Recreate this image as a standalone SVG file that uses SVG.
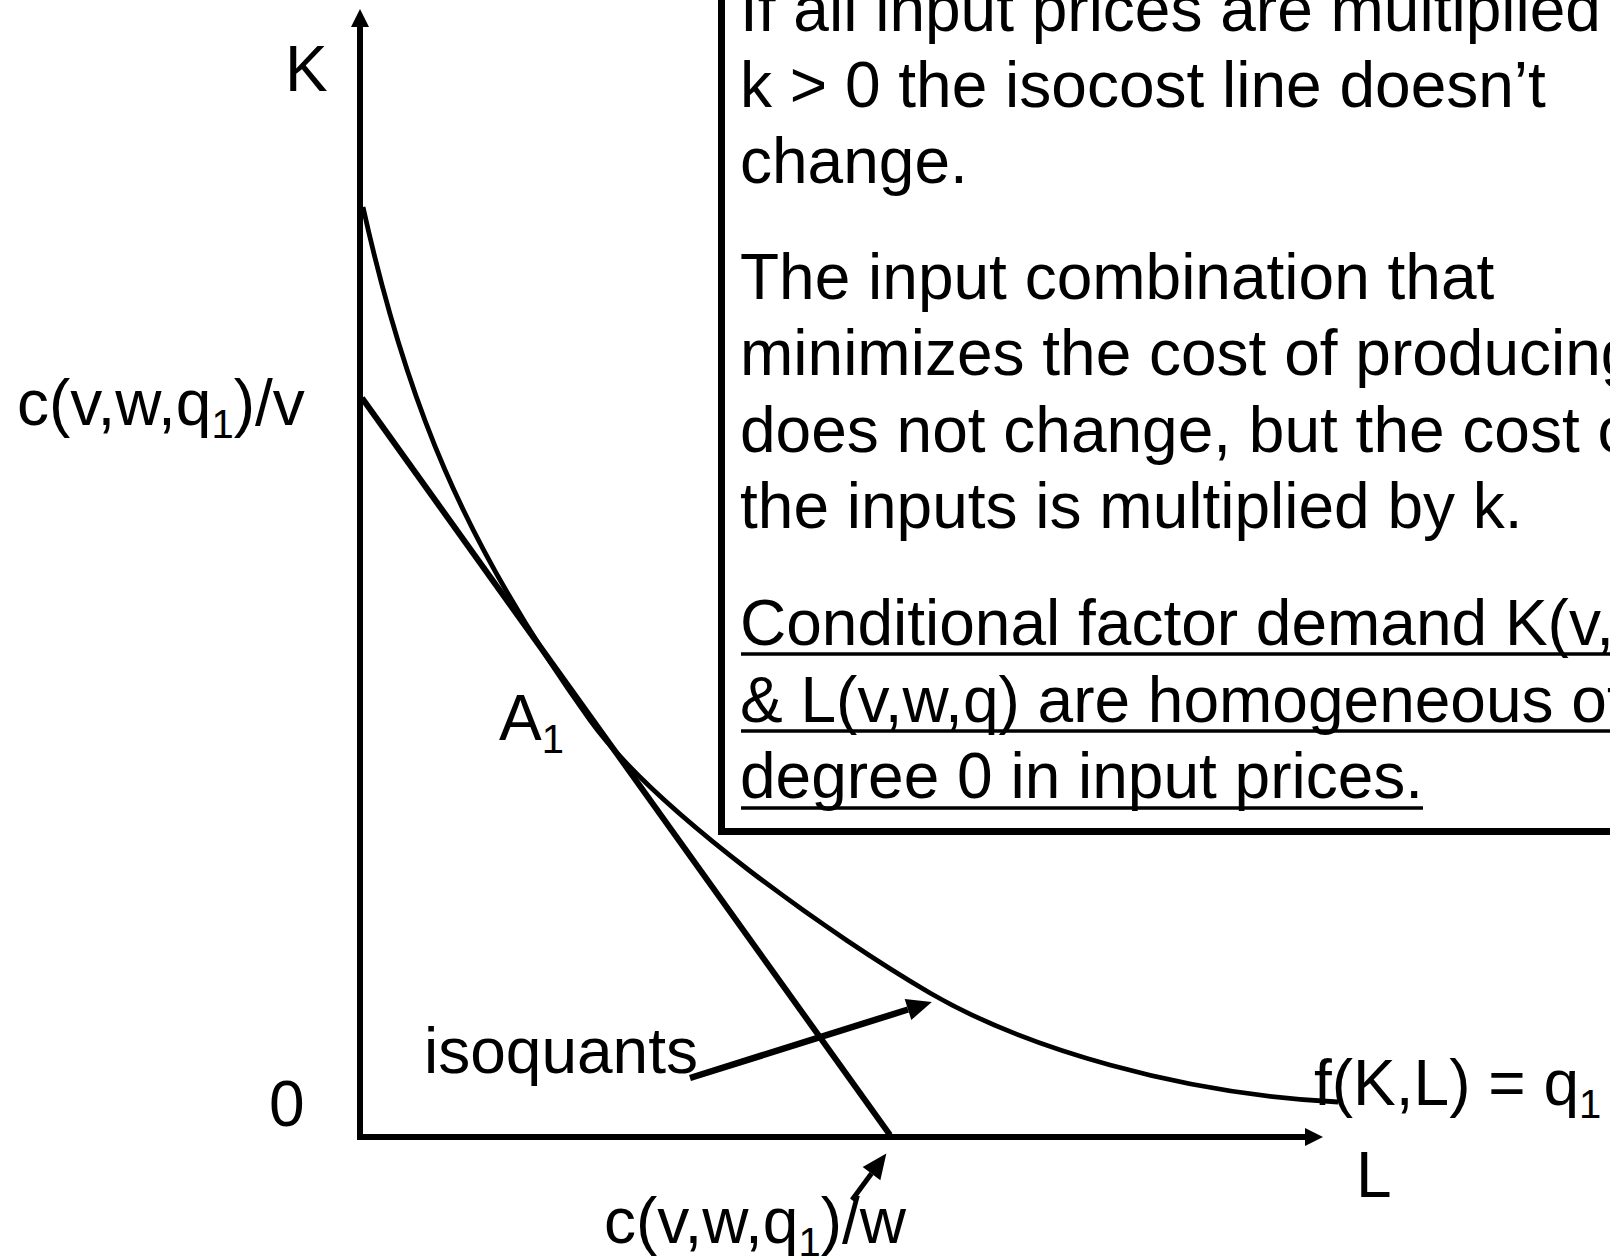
<svg xmlns="http://www.w3.org/2000/svg" width="1610" height="1259" viewBox="0 0 1610 1259">
  <style>
    .t { font-family: "Liberation Sans", Arial, sans-serif; font-size: 64px; fill: #000; }
    .sub { font-size: 40px; }
    .ln { stroke: #000; fill: none; stroke-linecap: butt; }
  </style>
  <defs>
    <marker id="axisHead" markerUnits="userSpaceOnUse" markerWidth="18" markerHeight="18" refX="0" refY="9" orient="auto" overflow="visible">
      <path d="M0,0 L18,9 L0,18 z" fill="#000"/>
    </marker>
    <marker id="ptrHead" markerUnits="userSpaceOnUse" markerWidth="25" markerHeight="22" refX="0" refY="11" orient="auto" overflow="visible">
      <path d="M0,0 L25,11 L0,22 z" fill="#000"/>
    </marker>
  </defs>
  <rect width="1610" height="1259" fill="#fff"/>

  <g id="axes">
    <line class="ln" x1="360" y1="1140" x2="360" y2="27" stroke-width="6" marker-end="url(#axisHead)"/>
    <line class="ln" x1="357" y1="1137" x2="1305" y2="1137" stroke-width="6" marker-end="url(#axisHead)"/>
  </g>

  <g id="isoquant">
    <path class="ln" stroke-width="4.8" d="M363,207 C406.3,402 462.7,542.5 590,720 C656.5,812.7 836.8,938.9 930,993 C1024,1047.5 1180,1094.1 1338,1102"/>
  </g>

  <g id="isocost">
    <line class="ln" x1="362" y1="398" x2="890" y2="1135" stroke-width="6"/>
  </g>

  <g id="textbox">
    <rect x="721.5" y="-20" width="1000" height="851.5" fill="#fff" stroke="#000" stroke-width="7"/>
    <text class="t" x="740" y="31">If all input prices are multiplied</text>
    <text class="t" x="740" y="107">k &gt; 0 the isocost line doesn’t</text>
    <text class="t" x="740" y="183">change.</text>
    <text class="t" x="740" y="299">The input combination that</text>
    <text class="t" x="740" y="375">minimizes the cost of producing</text>
    <text class="t" x="740" y="452">does not change, but the cost of</text>
    <text class="t" x="740" y="528">the inputs is multiplied by k.</text>
    <text class="t" x="740" y="645">Conditional factor demand K(v,</text>
    <text class="t" x="740" y="722">&amp; L(v,w,q) are homogeneous of</text>
    <text class="t" x="740" y="798">degree 0 in input prices.</text>
    <line class="ln" x1="741" y1="654" x2="1610" y2="654" stroke-width="3.5"/>
    <line class="ln" x1="741" y1="731" x2="1610" y2="731" stroke-width="3.5"/>
    <line class="ln" x1="741" y1="808" x2="1423" y2="808" stroke-width="3.5"/>
  </g>

  <g id="labels">
    <text id="label-K" class="t" x="285" y="91">K</text>
    <text id="label-cv" class="t" x="17" y="425">c(v,w,q<tspan class="sub" dy="13">1</tspan><tspan dy="-13">)/v</tspan></text>
    <text id="label-0" class="t" x="269" y="1126">0</text>
    <text id="label-A1" class="t" x="499" y="740">A<tspan class="sub" dy="13">1</tspan></text>
    <text id="label-isoquants" class="t" x="424" y="1073">isoquants</text>
    <text id="label-f" class="t" x="1314" y="1105">f(K,L) = q<tspan class="sub" dy="13">1</tspan></text>
    <text id="label-L" class="t" x="1356" y="1197">L</text>
    <text id="label-cw" class="t" x="604" y="1243">c(v,w,q<tspan class="sub" dy="13">1</tspan><tspan dy="-13">)/w</tspan></text>
  </g>

  <g id="connectors">
    <line class="ln" x1="690" y1="1078" x2="908" y2="1009.5" stroke-width="6.5" marker-end="url(#ptrHead)"/>
    <line class="ln" x1="852" y1="1200" x2="871.5" y2="1173.6" stroke-width="5" marker-end="url(#ptrHead)"/>
  </g>
</svg>
